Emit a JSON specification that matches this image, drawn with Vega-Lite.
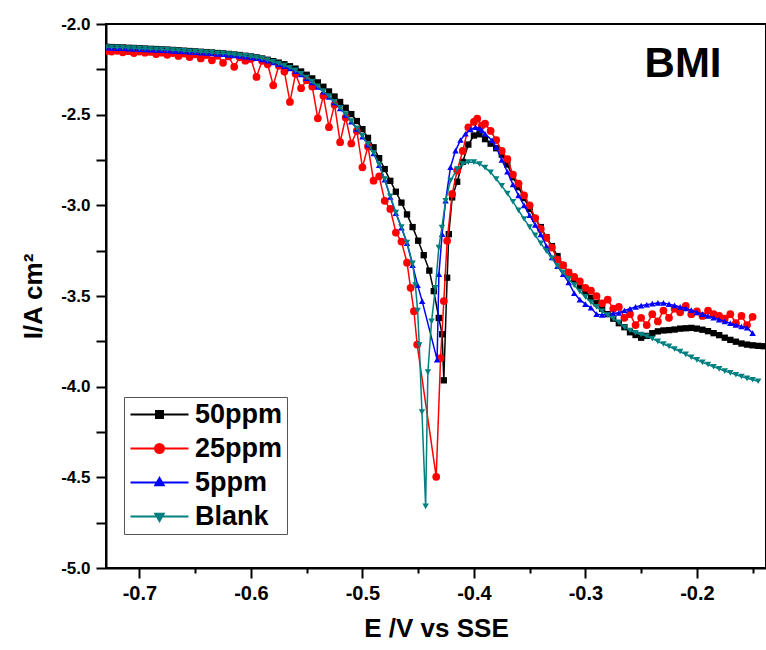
{
"$schema": "https://vega.github.io/schema/vega-lite/v6.json",
"width": 660, "height": 544,
"autosize": {"type": "none"},
"padding": {"left": 106, "top": 24, "right": 0, "bottom": 82},
"config": {"view": {"stroke": "black", "strokeWidth": 2}, "font": "Liberation Sans"},
"data": {"values": [
{"s":"50ppm","x":-0.730,"y":-2.126},{"s":"50ppm","x":-0.725,"y":-2.127},{"s":"50ppm","x":-0.720,"y":-2.128},{"s":"50ppm","x":-0.715,"y":-2.129},{"s":"50ppm","x":-0.710,"y":-2.131},{"s":"50ppm","x":-0.705,"y":-2.132},{"s":"50ppm","x":-0.700,"y":-2.134},{"s":"50ppm","x":-0.695,"y":-2.135},{"s":"50ppm","x":-0.690,"y":-2.137},{"s":"50ppm","x":-0.685,"y":-2.138},{"s":"50ppm","x":-0.680,"y":-2.140},{"s":"50ppm","x":-0.675,"y":-2.141},{"s":"50ppm","x":-0.670,"y":-2.143},{"s":"50ppm","x":-0.665,"y":-2.145},{"s":"50ppm","x":-0.660,"y":-2.147},{"s":"50ppm","x":-0.655,"y":-2.149},{"s":"50ppm","x":-0.650,"y":-2.151},{"s":"50ppm","x":-0.645,"y":-2.153},{"s":"50ppm","x":-0.640,"y":-2.155},{"s":"50ppm","x":-0.635,"y":-2.157},{"s":"50ppm","x":-0.630,"y":-2.160},{"s":"50ppm","x":-0.625,"y":-2.162},{"s":"50ppm","x":-0.620,"y":-2.165},{"s":"50ppm","x":-0.615,"y":-2.168},{"s":"50ppm","x":-0.610,"y":-2.171},{"s":"50ppm","x":-0.605,"y":-2.175},{"s":"50ppm","x":-0.600,"y":-2.179},{"s":"50ppm","x":-0.595,"y":-2.184},{"s":"50ppm","x":-0.590,"y":-2.190},{"s":"50ppm","x":-0.585,"y":-2.197},{"s":"50ppm","x":-0.580,"y":-2.205},{"s":"50ppm","x":-0.575,"y":-2.213},{"s":"50ppm","x":-0.570,"y":-2.222},{"s":"50ppm","x":-0.565,"y":-2.233},{"s":"50ppm","x":-0.560,"y":-2.246},{"s":"50ppm","x":-0.555,"y":-2.262},{"s":"50ppm","x":-0.550,"y":-2.280},{"s":"50ppm","x":-0.545,"y":-2.300},{"s":"50ppm","x":-0.540,"y":-2.322},{"s":"50ppm","x":-0.535,"y":-2.346},{"s":"50ppm","x":-0.530,"y":-2.372},{"s":"50ppm","x":-0.525,"y":-2.400},{"s":"50ppm","x":-0.520,"y":-2.430},{"s":"50ppm","x":-0.515,"y":-2.462},{"s":"50ppm","x":-0.510,"y":-2.497},{"s":"50ppm","x":-0.505,"y":-2.535},{"s":"50ppm","x":-0.500,"y":-2.580},{"s":"50ppm","x":-0.495,"y":-2.628},{"s":"50ppm","x":-0.490,"y":-2.680},{"s":"50ppm","x":-0.485,"y":-2.740},{"s":"50ppm","x":-0.480,"y":-2.800},{"s":"50ppm","x":-0.475,"y":-2.865},{"s":"50ppm","x":-0.470,"y":-2.925},{"s":"50ppm","x":-0.465,"y":-2.985},{"s":"50ppm","x":-0.460,"y":-3.050},{"s":"50ppm","x":-0.455,"y":-3.120},{"s":"50ppm","x":-0.450,"y":-3.195},{"s":"50ppm","x":-0.445,"y":-3.275},{"s":"50ppm","x":-0.440,"y":-3.360},{"s":"50ppm","x":-0.436,"y":-3.473},{"s":"50ppm","x":-0.4315,"y":-3.621},{"s":"50ppm","x":-0.4285,"y":-3.711},{"s":"50ppm","x":-0.427,"y":-3.965},{"s":"50ppm","x":-0.424,"y":-3.399},{"s":"50ppm","x":-0.4225,"y":-3.159},{"s":"50ppm","x":-0.4195,"y":-2.956},{"s":"50ppm","x":-0.415,"y":-2.870},{"s":"50ppm","x":-0.410,"y":-2.760},{"s":"50ppm","x":-0.405,"y":-2.665},{"s":"50ppm","x":-0.400,"y":-2.615},{"s":"50ppm","x":-0.395,"y":-2.608},{"s":"50ppm","x":-0.390,"y":-2.635},{"s":"50ppm","x":-0.385,"y":-2.660},{"s":"50ppm","x":-0.380,"y":-2.685},{"s":"50ppm","x":-0.375,"y":-2.720},{"s":"50ppm","x":-0.370,"y":-2.775},{"s":"50ppm","x":-0.365,"y":-2.845},{"s":"50ppm","x":-0.360,"y":-2.900},{"s":"50ppm","x":-0.355,"y":-2.960},{"s":"50ppm","x":-0.350,"y":-3.020},{"s":"50ppm","x":-0.345,"y":-3.075},{"s":"50ppm","x":-0.340,"y":-3.120},{"s":"50ppm","x":-0.335,"y":-3.175},{"s":"50ppm","x":-0.330,"y":-3.225},{"s":"50ppm","x":-0.325,"y":-3.280},{"s":"50ppm","x":-0.320,"y":-3.330},{"s":"50ppm","x":-0.315,"y":-3.370},{"s":"50ppm","x":-0.310,"y":-3.410},{"s":"50ppm","x":-0.305,"y":-3.445},{"s":"50ppm","x":-0.300,"y":-3.475},{"s":"50ppm","x":-0.295,"y":-3.510},{"s":"50ppm","x":-0.290,"y":-3.540},{"s":"50ppm","x":-0.285,"y":-3.570},{"s":"50ppm","x":-0.280,"y":-3.600},{"s":"50ppm","x":-0.275,"y":-3.625},{"s":"50ppm","x":-0.270,"y":-3.650},{"s":"50ppm","x":-0.265,"y":-3.672},{"s":"50ppm","x":-0.260,"y":-3.700},{"s":"50ppm","x":-0.255,"y":-3.715},{"s":"50ppm","x":-0.250,"y":-3.730},{"s":"50ppm","x":-0.245,"y":-3.720},{"s":"50ppm","x":-0.240,"y":-3.705},{"s":"50ppm","x":-0.235,"y":-3.695},{"s":"50ppm","x":-0.230,"y":-3.690},{"s":"50ppm","x":-0.225,"y":-3.688},{"s":"50ppm","x":-0.220,"y":-3.685},{"s":"50ppm","x":-0.215,"y":-3.680},{"s":"50ppm","x":-0.210,"y":-3.678},{"s":"50ppm","x":-0.205,"y":-3.676},{"s":"50ppm","x":-0.200,"y":-3.680},{"s":"50ppm","x":-0.195,"y":-3.686},{"s":"50ppm","x":-0.190,"y":-3.694},{"s":"50ppm","x":-0.185,"y":-3.705},{"s":"50ppm","x":-0.180,"y":-3.716},{"s":"50ppm","x":-0.175,"y":-3.730},{"s":"50ppm","x":-0.170,"y":-3.742},{"s":"50ppm","x":-0.165,"y":-3.752},{"s":"50ppm","x":-0.160,"y":-3.762},{"s":"50ppm","x":-0.155,"y":-3.768},{"s":"50ppm","x":-0.150,"y":-3.772},{"s":"50ppm","x":-0.145,"y":-3.775},{"s":"50ppm","x":-0.140,"y":-3.777},
{"s":"25ppm","x":-0.730,"y":-2.150},{"s":"25ppm","x":-0.725,"y":-2.152},{"s":"25ppm","x":-0.720,"y":-2.148},{"s":"25ppm","x":-0.715,"y":-2.156},{"s":"25ppm","x":-0.710,"y":-2.150},{"s":"25ppm","x":-0.705,"y":-2.160},{"s":"25ppm","x":-0.700,"y":-2.152},{"s":"25ppm","x":-0.695,"y":-2.158},{"s":"25ppm","x":-0.690,"y":-2.154},{"s":"25ppm","x":-0.685,"y":-2.166},{"s":"25ppm","x":-0.680,"y":-2.158},{"s":"25ppm","x":-0.675,"y":-2.170},{"s":"25ppm","x":-0.670,"y":-2.160},{"s":"25ppm","x":-0.665,"y":-2.176},{"s":"25ppm","x":-0.660,"y":-2.163},{"s":"25ppm","x":-0.655,"y":-2.182},{"s":"25ppm","x":-0.650,"y":-2.167},{"s":"25ppm","x":-0.645,"y":-2.190},{"s":"25ppm","x":-0.640,"y":-2.171},{"s":"25ppm","x":-0.635,"y":-2.200},{"s":"25ppm","x":-0.630,"y":-2.175},{"s":"25ppm","x":-0.625,"y":-2.214},{"s":"25ppm","x":-0.620,"y":-2.179},{"s":"25ppm","x":-0.615,"y":-2.236},{"s":"25ppm","x":-0.610,"y":-2.184},{"s":"25ppm","x":-0.605,"y":-2.202},{"s":"25ppm","x":-0.600,"y":-2.193},{"s":"25ppm","x":-0.595,"y":-2.292},{"s":"25ppm","x":-0.590,"y":-2.203},{"s":"25ppm","x":-0.585,"y":-2.222},{"s":"25ppm","x":-0.580,"y":-2.338},{"s":"25ppm","x":-0.575,"y":-2.230},{"s":"25ppm","x":-0.570,"y":-2.262},{"s":"25ppm","x":-0.565,"y":-2.430},{"s":"25ppm","x":-0.560,"y":-2.275},{"s":"25ppm","x":-0.555,"y":-2.354},{"s":"25ppm","x":-0.550,"y":-2.310},{"s":"25ppm","x":-0.545,"y":-2.345},{"s":"25ppm","x":-0.540,"y":-2.520},{"s":"25ppm","x":-0.535,"y":-2.395},{"s":"25ppm","x":-0.530,"y":-2.569},{"s":"25ppm","x":-0.525,"y":-2.445},{"s":"25ppm","x":-0.520,"y":-2.652},{"s":"25ppm","x":-0.515,"y":-2.515},{"s":"25ppm","x":-0.510,"y":-2.659},{"s":"25ppm","x":-0.505,"y":-2.590},{"s":"25ppm","x":-0.500,"y":-2.790},{"s":"25ppm","x":-0.495,"y":-2.675},{"s":"25ppm","x":-0.490,"y":-2.864},{"s":"25ppm","x":-0.485,"y":-2.840},{"s":"25ppm","x":-0.480,"y":-2.975},{"s":"25ppm","x":-0.475,"y":-3.020},{"s":"25ppm","x":-0.470,"y":-3.150},{"s":"25ppm","x":-0.465,"y":-3.200},{"s":"25ppm","x":-0.460,"y":-3.316},{"s":"25ppm","x":-0.4568,"y":-3.455},{"s":"25ppm","x":-0.4538,"y":-3.584},{"s":"25ppm","x":-0.4509,"y":-3.768},{"s":"25ppm","x":-0.4338,"y":-4.497},{"s":"25ppm","x":-0.4299,"y":-3.842},{"s":"25ppm","x":-0.427,"y":-3.528},{"s":"25ppm","x":-0.424,"y":-3.196},{"s":"25ppm","x":-0.4195,"y":-2.937},{"s":"25ppm","x":-0.415,"y":-2.808},{"s":"25ppm","x":-0.410,"y":-2.700},{"s":"25ppm","x":-0.405,"y":-2.570},{"s":"25ppm","x":-0.400,"y":-2.540},{"s":"25ppm","x":-0.397,"y":-2.522},{"s":"25ppm","x":-0.393,"y":-2.560},{"s":"25ppm","x":-0.390,"y":-2.550},{"s":"25ppm","x":-0.385,"y":-2.590},{"s":"25ppm","x":-0.380,"y":-2.640},{"s":"25ppm","x":-0.375,"y":-2.700},{"s":"25ppm","x":-0.370,"y":-2.745},{"s":"25ppm","x":-0.365,"y":-2.830},{"s":"25ppm","x":-0.360,"y":-2.880},{"s":"25ppm","x":-0.355,"y":-2.945},{"s":"25ppm","x":-0.350,"y":-3.000},{"s":"25ppm","x":-0.345,"y":-3.070},{"s":"25ppm","x":-0.340,"y":-3.130},{"s":"25ppm","x":-0.335,"y":-3.180},{"s":"25ppm","x":-0.330,"y":-3.233},{"s":"25ppm","x":-0.325,"y":-3.300},{"s":"25ppm","x":-0.320,"y":-3.330},{"s":"25ppm","x":-0.315,"y":-3.370},{"s":"25ppm","x":-0.310,"y":-3.395},{"s":"25ppm","x":-0.305,"y":-3.420},{"s":"25ppm","x":-0.300,"y":-3.455},{"s":"25ppm","x":-0.295,"y":-3.470},{"s":"25ppm","x":-0.290,"y":-3.500},{"s":"25ppm","x":-0.285,"y":-3.540},{"s":"25ppm","x":-0.280,"y":-3.520},{"s":"25ppm","x":-0.275,"y":-3.570},{"s":"25ppm","x":-0.270,"y":-3.560},{"s":"25ppm","x":-0.265,"y":-3.620},{"s":"25ppm","x":-0.260,"y":-3.600},{"s":"25ppm","x":-0.255,"y":-3.660},{"s":"25ppm","x":-0.250,"y":-3.620},{"s":"25ppm","x":-0.245,"y":-3.660},{"s":"25ppm","x":-0.240,"y":-3.600},{"s":"25ppm","x":-0.235,"y":-3.640},{"s":"25ppm","x":-0.230,"y":-3.580},{"s":"25ppm","x":-0.225,"y":-3.620},{"s":"25ppm","x":-0.220,"y":-3.570},{"s":"25ppm","x":-0.215,"y":-3.590},{"s":"25ppm","x":-0.210,"y":-3.555},{"s":"25ppm","x":-0.205,"y":-3.600},{"s":"25ppm","x":-0.200,"y":-3.585},{"s":"25ppm","x":-0.195,"y":-3.610},{"s":"25ppm","x":-0.190,"y":-3.580},{"s":"25ppm","x":-0.185,"y":-3.600},{"s":"25ppm","x":-0.180,"y":-3.610},{"s":"25ppm","x":-0.175,"y":-3.625},{"s":"25ppm","x":-0.170,"y":-3.600},{"s":"25ppm","x":-0.165,"y":-3.650},{"s":"25ppm","x":-0.160,"y":-3.610},{"s":"25ppm","x":-0.155,"y":-3.660},{"s":"25ppm","x":-0.150,"y":-3.615},
{"s":"5ppm","x":-0.730,"y":-2.131},{"s":"5ppm","x":-0.725,"y":-2.132},{"s":"5ppm","x":-0.720,"y":-2.133},{"s":"5ppm","x":-0.715,"y":-2.134},{"s":"5ppm","x":-0.710,"y":-2.136},{"s":"5ppm","x":-0.705,"y":-2.137},{"s":"5ppm","x":-0.700,"y":-2.139},{"s":"5ppm","x":-0.695,"y":-2.140},{"s":"5ppm","x":-0.690,"y":-2.142},{"s":"5ppm","x":-0.685,"y":-2.143},{"s":"5ppm","x":-0.680,"y":-2.145},{"s":"5ppm","x":-0.675,"y":-2.146},{"s":"5ppm","x":-0.670,"y":-2.148},{"s":"5ppm","x":-0.665,"y":-2.150},{"s":"5ppm","x":-0.660,"y":-2.152},{"s":"5ppm","x":-0.655,"y":-2.154},{"s":"5ppm","x":-0.650,"y":-2.156},{"s":"5ppm","x":-0.645,"y":-2.158},{"s":"5ppm","x":-0.640,"y":-2.160},{"s":"5ppm","x":-0.635,"y":-2.162},{"s":"5ppm","x":-0.630,"y":-2.165},{"s":"5ppm","x":-0.625,"y":-2.167},{"s":"5ppm","x":-0.620,"y":-2.170},{"s":"5ppm","x":-0.615,"y":-2.173},{"s":"5ppm","x":-0.610,"y":-2.176},{"s":"5ppm","x":-0.605,"y":-2.180},{"s":"5ppm","x":-0.600,"y":-2.184},{"s":"5ppm","x":-0.595,"y":-2.189},{"s":"5ppm","x":-0.590,"y":-2.195},{"s":"5ppm","x":-0.585,"y":-2.203},{"s":"5ppm","x":-0.580,"y":-2.212},{"s":"5ppm","x":-0.575,"y":-2.222},{"s":"5ppm","x":-0.570,"y":-2.233},{"s":"5ppm","x":-0.565,"y":-2.245},{"s":"5ppm","x":-0.560,"y":-2.260},{"s":"5ppm","x":-0.555,"y":-2.278},{"s":"5ppm","x":-0.550,"y":-2.299},{"s":"5ppm","x":-0.545,"y":-2.322},{"s":"5ppm","x":-0.540,"y":-2.347},{"s":"5ppm","x":-0.535,"y":-2.374},{"s":"5ppm","x":-0.530,"y":-2.402},{"s":"5ppm","x":-0.525,"y":-2.433},{"s":"5ppm","x":-0.520,"y":-2.466},{"s":"5ppm","x":-0.515,"y":-2.501},{"s":"5ppm","x":-0.510,"y":-2.539},{"s":"5ppm","x":-0.505,"y":-2.579},{"s":"5ppm","x":-0.500,"y":-2.621},{"s":"5ppm","x":-0.495,"y":-2.665},{"s":"5ppm","x":-0.490,"y":-2.714},{"s":"5ppm","x":-0.485,"y":-2.779},{"s":"5ppm","x":-0.480,"y":-2.859},{"s":"5ppm","x":-0.475,"y":-2.954},{"s":"5ppm","x":-0.470,"y":-3.044},{"s":"5ppm","x":-0.465,"y":-3.124},{"s":"5ppm","x":-0.460,"y":-3.209},{"s":"5ppm","x":-0.455,"y":-3.330},{"s":"5ppm","x":-0.4505,"y":-3.440},{"s":"5ppm","x":-0.4464,"y":-3.528},{"s":"5ppm","x":-0.433,"y":-3.851},{"s":"5ppm","x":-0.4314,"y":-3.380},{"s":"5ppm","x":-0.4285,"y":-3.159},{"s":"5ppm","x":-0.4254,"y":-2.975},{"s":"5ppm","x":-0.421,"y":-2.790},{"s":"5ppm","x":-0.4165,"y":-2.698},{"s":"5ppm","x":-0.412,"y":-2.640},{"s":"5ppm","x":-0.4075,"y":-2.605},{"s":"5ppm","x":-0.403,"y":-2.582},{"s":"5ppm","x":-0.3986,"y":-2.569},{"s":"5ppm","x":-0.395,"y":-2.574},{"s":"5ppm","x":-0.3927,"y":-2.587},{"s":"5ppm","x":-0.390,"y":-2.605},{"s":"5ppm","x":-0.3837,"y":-2.642},{"s":"5ppm","x":-0.380,"y":-2.680},{"s":"5ppm","x":-0.375,"y":-2.750},{"s":"5ppm","x":-0.370,"y":-2.815},{"s":"5ppm","x":-0.365,"y":-2.885},{"s":"5ppm","x":-0.360,"y":-2.945},{"s":"5ppm","x":-0.355,"y":-3.000},{"s":"5ppm","x":-0.350,"y":-3.055},{"s":"5ppm","x":-0.345,"y":-3.108},{"s":"5ppm","x":-0.340,"y":-3.160},{"s":"5ppm","x":-0.335,"y":-3.225},{"s":"5ppm","x":-0.330,"y":-3.288},{"s":"5ppm","x":-0.325,"y":-3.335},{"s":"5ppm","x":-0.320,"y":-3.380},{"s":"5ppm","x":-0.315,"y":-3.425},{"s":"5ppm","x":-0.310,"y":-3.485},{"s":"5ppm","x":-0.305,"y":-3.520},{"s":"5ppm","x":-0.300,"y":-3.545},{"s":"5ppm","x":-0.295,"y":-3.565},{"s":"5ppm","x":-0.290,"y":-3.600},{"s":"5ppm","x":-0.285,"y":-3.605},{"s":"5ppm","x":-0.280,"y":-3.598},{"s":"5ppm","x":-0.275,"y":-3.596},{"s":"5ppm","x":-0.270,"y":-3.593},{"s":"5ppm","x":-0.265,"y":-3.580},{"s":"5ppm","x":-0.260,"y":-3.570},{"s":"5ppm","x":-0.255,"y":-3.560},{"s":"5ppm","x":-0.250,"y":-3.553},{"s":"5ppm","x":-0.245,"y":-3.548},{"s":"5ppm","x":-0.240,"y":-3.542},{"s":"5ppm","x":-0.235,"y":-3.538},{"s":"5ppm","x":-0.230,"y":-3.538},{"s":"5ppm","x":-0.225,"y":-3.545},{"s":"5ppm","x":-0.220,"y":-3.552},{"s":"5ppm","x":-0.215,"y":-3.560},{"s":"5ppm","x":-0.210,"y":-3.568},{"s":"5ppm","x":-0.205,"y":-3.578},{"s":"5ppm","x":-0.200,"y":-3.590},{"s":"5ppm","x":-0.195,"y":-3.600},{"s":"5ppm","x":-0.190,"y":-3.610},{"s":"5ppm","x":-0.185,"y":-3.620},{"s":"5ppm","x":-0.180,"y":-3.630},{"s":"5ppm","x":-0.175,"y":-3.640},{"s":"5ppm","x":-0.170,"y":-3.650},{"s":"5ppm","x":-0.165,"y":-3.660},{"s":"5ppm","x":-0.160,"y":-3.668},{"s":"5ppm","x":-0.155,"y":-3.675},{"s":"5ppm","x":-0.150,"y":-3.705},
{"s":"Blank","x":-0.730,"y":-2.127},{"s":"Blank","x":-0.725,"y":-2.128},{"s":"Blank","x":-0.720,"y":-2.129},{"s":"Blank","x":-0.715,"y":-2.130},{"s":"Blank","x":-0.710,"y":-2.132},{"s":"Blank","x":-0.705,"y":-2.133},{"s":"Blank","x":-0.700,"y":-2.135},{"s":"Blank","x":-0.695,"y":-2.136},{"s":"Blank","x":-0.690,"y":-2.138},{"s":"Blank","x":-0.685,"y":-2.139},{"s":"Blank","x":-0.680,"y":-2.141},{"s":"Blank","x":-0.675,"y":-2.142},{"s":"Blank","x":-0.670,"y":-2.144},{"s":"Blank","x":-0.665,"y":-2.146},{"s":"Blank","x":-0.660,"y":-2.148},{"s":"Blank","x":-0.655,"y":-2.150},{"s":"Blank","x":-0.650,"y":-2.152},{"s":"Blank","x":-0.645,"y":-2.154},{"s":"Blank","x":-0.640,"y":-2.156},{"s":"Blank","x":-0.635,"y":-2.158},{"s":"Blank","x":-0.630,"y":-2.161},{"s":"Blank","x":-0.625,"y":-2.163},{"s":"Blank","x":-0.620,"y":-2.166},{"s":"Blank","x":-0.615,"y":-2.169},{"s":"Blank","x":-0.610,"y":-2.172},{"s":"Blank","x":-0.605,"y":-2.176},{"s":"Blank","x":-0.600,"y":-2.180},{"s":"Blank","x":-0.595,"y":-2.185},{"s":"Blank","x":-0.590,"y":-2.191},{"s":"Blank","x":-0.585,"y":-2.199},{"s":"Blank","x":-0.580,"y":-2.208},{"s":"Blank","x":-0.575,"y":-2.218},{"s":"Blank","x":-0.570,"y":-2.229},{"s":"Blank","x":-0.565,"y":-2.241},{"s":"Blank","x":-0.560,"y":-2.256},{"s":"Blank","x":-0.555,"y":-2.274},{"s":"Blank","x":-0.550,"y":-2.295},{"s":"Blank","x":-0.545,"y":-2.318},{"s":"Blank","x":-0.540,"y":-2.343},{"s":"Blank","x":-0.535,"y":-2.370},{"s":"Blank","x":-0.530,"y":-2.398},{"s":"Blank","x":-0.525,"y":-2.429},{"s":"Blank","x":-0.520,"y":-2.462},{"s":"Blank","x":-0.515,"y":-2.497},{"s":"Blank","x":-0.510,"y":-2.535},{"s":"Blank","x":-0.505,"y":-2.575},{"s":"Blank","x":-0.500,"y":-2.617},{"s":"Blank","x":-0.495,"y":-2.661},{"s":"Blank","x":-0.490,"y":-2.710},{"s":"Blank","x":-0.485,"y":-2.775},{"s":"Blank","x":-0.480,"y":-2.855},{"s":"Blank","x":-0.475,"y":-2.950},{"s":"Blank","x":-0.470,"y":-3.040},{"s":"Blank","x":-0.465,"y":-3.120},{"s":"Blank","x":-0.460,"y":-3.205},{"s":"Blank","x":-0.455,"y":-3.320},{"s":"Blank","x":-0.4525,"y":-3.440},{"s":"Blank","x":-0.4505,"y":-3.580},{"s":"Blank","x":-0.449,"y":-3.770},{"s":"Blank","x":-0.4466,"y":-4.140},{"s":"Blank","x":-0.4433,"y":-4.660},{"s":"Blank","x":-0.4413,"y":-3.920},{"s":"Blank","x":-0.438,"y":-3.640},{"s":"Blank","x":-0.4345,"y":-3.455},{"s":"Blank","x":-0.4315,"y":-3.233},{"s":"Blank","x":-0.4287,"y":-3.122},{"s":"Blank","x":-0.4254,"y":-2.975},{"s":"Blank","x":-0.421,"y":-2.864},{"s":"Blank","x":-0.415,"y":-2.800},{"s":"Blank","x":-0.410,"y":-2.772},{"s":"Blank","x":-0.405,"y":-2.762},{"s":"Blank","x":-0.400,"y":-2.762},{"s":"Blank","x":-0.395,"y":-2.772},{"s":"Blank","x":-0.390,"y":-2.792},{"s":"Blank","x":-0.385,"y":-2.818},{"s":"Blank","x":-0.380,"y":-2.855},{"s":"Blank","x":-0.375,"y":-2.893},{"s":"Blank","x":-0.370,"y":-2.935},{"s":"Blank","x":-0.365,"y":-2.980},{"s":"Blank","x":-0.360,"y":-3.028},{"s":"Blank","x":-0.355,"y":-3.075},{"s":"Blank","x":-0.350,"y":-3.120},{"s":"Blank","x":-0.345,"y":-3.165},{"s":"Blank","x":-0.340,"y":-3.210},{"s":"Blank","x":-0.335,"y":-3.252},{"s":"Blank","x":-0.330,"y":-3.292},{"s":"Blank","x":-0.325,"y":-3.335},{"s":"Blank","x":-0.320,"y":-3.370},{"s":"Blank","x":-0.315,"y":-3.405},{"s":"Blank","x":-0.310,"y":-3.440},{"s":"Blank","x":-0.305,"y":-3.475},{"s":"Blank","x":-0.300,"y":-3.505},{"s":"Blank","x":-0.295,"y":-3.535},{"s":"Blank","x":-0.290,"y":-3.560},{"s":"Blank","x":-0.285,"y":-3.585},{"s":"Blank","x":-0.280,"y":-3.605},{"s":"Blank","x":-0.275,"y":-3.625},{"s":"Blank","x":-0.270,"y":-3.645},{"s":"Blank","x":-0.265,"y":-3.672},{"s":"Blank","x":-0.260,"y":-3.690},{"s":"Blank","x":-0.255,"y":-3.703},{"s":"Blank","x":-0.250,"y":-3.712},{"s":"Blank","x":-0.245,"y":-3.722},{"s":"Blank","x":-0.240,"y":-3.735},{"s":"Blank","x":-0.235,"y":-3.750},{"s":"Blank","x":-0.230,"y":-3.765},{"s":"Blank","x":-0.225,"y":-3.778},{"s":"Blank","x":-0.220,"y":-3.792},{"s":"Blank","x":-0.215,"y":-3.806},{"s":"Blank","x":-0.210,"y":-3.822},{"s":"Blank","x":-0.205,"y":-3.838},{"s":"Blank","x":-0.200,"y":-3.852},{"s":"Blank","x":-0.195,"y":-3.866},{"s":"Blank","x":-0.190,"y":-3.878},{"s":"Blank","x":-0.185,"y":-3.890},{"s":"Blank","x":-0.180,"y":-3.902},{"s":"Blank","x":-0.175,"y":-3.914},{"s":"Blank","x":-0.170,"y":-3.924},{"s":"Blank","x":-0.165,"y":-3.934},{"s":"Blank","x":-0.160,"y":-3.944},{"s":"Blank","x":-0.155,"y":-3.954},{"s":"Blank","x":-0.150,"y":-3.962},{"s":"Blank","x":-0.145,"y":-3.970}
]},
"encoding": {
  "x": {"field": "x", "type": "quantitative",
    "scale": {"domain": [-0.73, -0.138], "nice": false, "zero": false},
    "axis": {"values": [-0.7,-0.65,-0.6,-0.55,-0.5,-0.45,-0.4,-0.35,-0.3,-0.25,-0.2,-0.15],
      "labelExpr": "abs(datum.value*10-round(datum.value*10))<0.001 ? '-' + format(abs(datum.value),'.1f') : ''",
      "tickSize": {"condition": {"test": "abs(datum.value*10-round(datum.value*10))<0.001", "value": 10}, "value": 5},
      "tickWidth": 2, "tickColor": "black", "domainColor": "black", "domainWidth": 2, "grid": false,
      "labelFont": "Liberation Sans", "labelFontSize": 20, "labelFontWeight": "bold", "labelColor": "black", "labelPadding": 5,
      "title": "E /V vs SSE", "titleFont": "Liberation Sans", "titleFontSize": 26, "titleFontWeight": "bold", "titleColor": "black", "titlePadding": 12}},
  "y": {"field": "y", "type": "quantitative",
    "scale": {"domain": [-5, -2], "nice": false, "zero": false},
    "axis": {"values": [-5,-4.75,-4.5,-4.25,-4,-3.75,-3.5,-3.25,-3,-2.75,-2.5,-2.25,-2],
      "labelExpr": "abs(datum.value*2-round(datum.value*2))<0.001 ? '-' + format(abs(datum.value),'.1f') : ''",
      "tickSize": 10, "tickWidth": 2, "tickColor": "black", "domainColor": "black", "domainWidth": 2, "grid": false,
      "labelFont": "Liberation Sans", "labelFontSize": 17, "labelFontWeight": "bold", "labelColor": "black", "labelPadding": 6,
      "title": "I/A cm²", "titleFont": "Liberation Sans", "titleFontSize": 26, "titleFontWeight": "bold", "titleColor": "black", "titlePadding": 14}}
},
"layer": [
  {"encoding": {"color": {"field": "s", "type": "nominal",
      "scale": {"domain": ["50ppm","25ppm","5ppm","Blank"], "range": ["#000000","#ff0000","#0000ff","#008080"]},
      "legend": {"orient": "none", "legendX": 18, "legendY": 373, "title": null, "direction": "vertical",
        "labelFont": "Liberation Sans", "labelFontSize": 27, "labelFontWeight": "bold", "labelColor": "black", "labelLimit": 300,
        "symbolSize": 400, "symbolOffset": 18, "labelOffset": 22, "padding": 4, "rowPadding": 6,
        "strokeColor": "#555555", "fillColor": "white",
        "encode": {"symbols": {"update": {
          "shape": {"signal": "datum.value === '50ppm' ? 'M-2.9,0H2.9M-0.35,-0.35H0.35V0.35H-0.35Z' : datum.value === '25ppm' ? 'M-2.9,0H2.9M0.45,0A0.45,0.45,0,1,1,-0.45,0A0.45,0.45,0,1,1,0.45,0Z' : datum.value === '5ppm' ? 'M-2.9,0H2.9M0,-0.45L0.42,0.28L-0.42,0.28Z' : 'M-2.9,0H2.9M0,0.45L0.42,-0.28L-0.42,-0.28Z'"},
          "fill": {"scale": "color", "field": "value"},
          "stroke": {"scale": "color", "field": "value"},
          "strokeWidth": {"value": 2},
          "opacity": {"value": 1}}}}}}},
   "layer": [
     {"transform": [{"filter": "datum.s === '50ppm'"}], "mark": {"type": "line", "strokeWidth": 1.5, "clip": true, "point": {"shape": "square", "size": 40, "filled": true}}},
     {"transform": [{"filter": "datum.s === '25ppm'"}], "mark": {"type": "line", "strokeWidth": 1.5, "clip": true, "point": {"shape": "circle", "size": 60, "filled": true}}},
     {"transform": [{"filter": "datum.s === '5ppm'"}], "mark": {"type": "line", "strokeWidth": 1.5, "clip": true, "point": {"shape": "triangle-up", "size": 42, "filled": true}}},
     {"transform": [{"filter": "datum.s === 'Blank'"}], "mark": {"type": "line", "strokeWidth": 1.5, "clip": true, "point": {"shape": "triangle-down", "size": 42, "filled": true}}}
   ]},
  {"data": {"values": [{"x": -0.2124, "y": -2.292, "t": "BMI"}]},
   "mark": {"type": "text", "font": "Liberation Sans", "fontSize": 42, "fontWeight": "bold", "align": "center", "baseline": "alphabetic", "color": "black"},
   "encoding": {"text": {"field": "t"}}}
]
}
